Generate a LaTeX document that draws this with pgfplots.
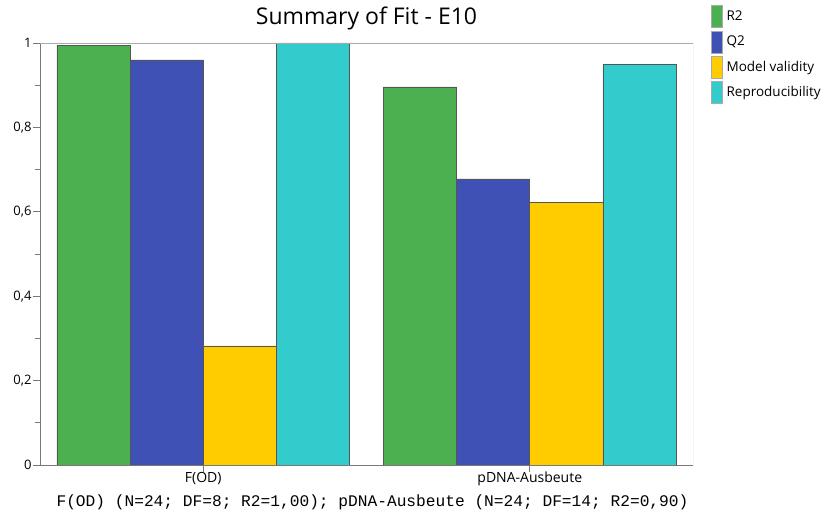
\documentclass[border=0pt]{standalone}
\usepackage{pgfplots}
\pgfplotsset{compat=1.18}
\usepackage{fontspec}
\setmainfont{Open Sans}
\newfontfamily\codefont{Liberation Mono}

\definecolor{cR}{RGB}{76,175,80}
\definecolor{cQ}{RGB}{63,81,181}
\definecolor{cM}{RGB}{255,204,0}
\definecolor{cP}{RGB}{51,204,204}
\definecolor{axdark}{RGB}{120,120,120}
\definecolor{axlight}{RGB}{170,170,170}
\definecolor{edge}{RGB}{85,85,85}

\pgfplotstableread{
x  R2    Q2    MV    RP
0  0.995 0.960 0.282 1.000
1  0.896 0.678 0.623 0.950
}\fitdata

\begin{document}
\begin{tikzpicture}
% fixed page area around the plot box
\useasboundingbox (-40pt,-53pt) rectangle (797pt,465pt);
\begin{axis}[
  at={(0,0)}, anchor=south west,
  scale only axis,
  width=653pt, height=422pt,
  xmin=-0.5, xmax=1.5,
  ymin=0, ymax=1,
  axis x line*=bottom, axis y line*=left,
  ybar=0pt,
  bar width=0.224,
  xtick={0,1},
  xticklabels={F(OD),pDNA-Ausbeute},
  ytick={0,0.2,0.4,0.6,0.8,1},
  yticklabels={0,{0,2},{0,4},{0,6},{0,8},1},
  minor ytick={0.1,0.3,0.5,0.7,0.9},
  tick align=outside,
  major tick length=7pt,
  minor tick length=5pt,
  tick style={axdark, line width=0.8pt},
  x tick label style={font=\fontsize{14}{16}\selectfont, anchor=center, yshift=-7pt},
  y tick label style={font=\fontsize{13}{15}\selectfont, xshift=2pt},
  axis line style={axdark, line width=0.9pt, -},
  title={Summary of Fit - E10},
  title style={font=\fontsize{23}{26}\selectfont, at={(axis description cs:0.5,1)}, anchor=center, yshift=19pt},
  xlabel={\codefont F(OD) (N=24; DF=8; R2=1,00); pDNA-Ausbeute (N=24; DF=14; R2=0,90)},
  xlabel style={font=\fontsize{16.2}{17}\selectfont, at={(axis description cs:0.5,0)}, anchor=center, yshift=-37pt, xshift=6pt},
  legend style={
    at={(rel axis cs:1,1)}, anchor=north west,
    xshift=18pt, yshift=38pt,
    draw=none, fill=none, inner sep=0pt,
    font=\fontsize{13.5}{15}\selectfont,
    row sep=3pt, column sep=3pt,
    legend cell align=left,
    nodes={inner sep=1pt},
  },
  legend image code/.code={
    \draw[#1, draw=edge!50, line width=0.4pt] (0pt,-11pt) rectangle (11pt,11pt);
  },
  every axis plot/.append style={draw=edge, line width=0.6pt},
]
\addplot[fill=cR] table[x=x, y=R2] {\fitdata};
\addplot[fill=cQ] table[x=x, y=Q2] {\fitdata};
\addplot[fill=cM] table[x=x, y=MV] {\fitdata};
\addplot[fill=cP] table[x=x, y=RP] {\fitdata};
\legend{R2,Q2,Model validity,Reproducibility}
% lighter top and right frame lines
\draw[axlight, line width=0.9pt] (rel axis cs:0,1) -- (rel axis cs:1,1) -- (rel axis cs:1,0);
% category tick marks below the axis
\draw[axdark, line width=0.8pt] (axis cs:0,0) -- ++(0pt,-7pt);
\draw[axdark, line width=0.8pt] (axis cs:1,0) -- ++(0pt,-7pt);
\end{axis}
\end{tikzpicture}
\end{document}
